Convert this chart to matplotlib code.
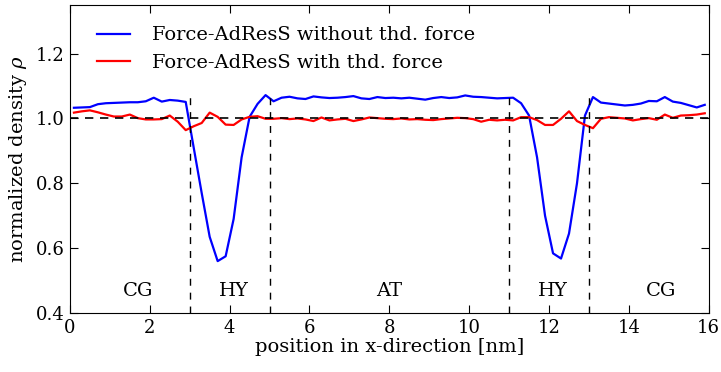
import numpy as np
import matplotlib
matplotlib.use("Agg")
import matplotlib.pyplot as plt

# density profiles, bins of 0.2 nm (centres 0.1 ... 15.9)
x = np.arange(0.1, 16.0, 0.2)

rho_without = [
    1.033, 1.034, 1.035, 1.044, 1.047, 1.048, 1.049, 1.050, 1.050, 1.053,
    1.064, 1.052, 1.057, 1.055, 1.051, 0.910, 0.770, 0.635, 0.560, 0.575,
    0.690, 0.880, 1.005, 1.045, 1.072, 1.053, 1.064, 1.067, 1.062, 1.060,
    1.068, 1.065, 1.063, 1.064, 1.066, 1.069, 1.062, 1.060, 1.066, 1.063,
    1.064, 1.062, 1.064, 1.061, 1.058, 1.063, 1.066, 1.063, 1.065, 1.071,
    1.067, 1.066, 1.064, 1.062, 1.063, 1.064, 1.047, 1.009, 0.880, 0.700,
    0.584, 0.568, 0.645, 0.800, 1.009, 1.066, 1.049, 1.046, 1.043, 1.040,
    1.042, 1.046, 1.054, 1.053, 1.066, 1.052, 1.048, 1.041, 1.034, 1.042,
]

rho_with = [
    1.018, 1.022, 1.025, 1.019, 1.012, 1.006, 1.006, 1.012, 1.001, 0.997,
    0.997, 0.998, 1.009, 0.990, 0.964, 0.976, 0.986, 1.018, 1.005, 0.981,
    0.980, 0.997, 1.005, 1.007, 0.999, 0.999, 1.001, 0.998, 1.000, 0.997,
    0.992, 1.003, 0.994, 0.997, 0.999, 0.992, 0.997, 1.003, 1.001, 0.999,
    0.998, 1.000, 0.997, 0.998, 0.996, 0.995, 0.998, 1.000, 1.002, 1.001,
    0.998, 0.990, 0.996, 0.994, 0.996, 0.994, 1.004, 1.004, 0.995, 0.980,
    0.980, 0.999, 1.022, 0.992, 0.980, 0.970, 0.999, 1.004, 1.002, 1.000,
    0.994, 0.998, 1.001, 0.996, 1.012, 1.002, 1.009, 1.010, 1.012, 1.016,
]

boundaries = [3, 5, 11, 13]
region_names = ["CG", "HY", "AT", "HY", "CG"]
region_pos = [1.7, 4.1, 8.0, 12.1, 14.8]

plt.rcParams['font.family'] = 'DejaVu Serif'
plt.rcParams['mathtext.fontset'] = 'dejavuserif'
plt.rcParams['font.size'] = 14

fig = plt.figure(figsize=(7.21, 3.72), dpi=100)
ax = fig.add_axes([0.097, 0.1586, 0.886, 0.828])

ax.plot(x, rho_without, color='#0000ff', lw=1.6, label='Force-AdResS without thd. force')
ax.plot(x, rho_with, color='#ff0000', lw=1.6, label='Force-AdResS with thd. force')

ax.axhline(1.0, color='black', ls='--', lw=1.2, dashes=(5, 4))
for b in boundaries:
    ax.plot([b, b], [0.4, 1.08], color='black', ls='--', lw=1.0, dashes=(5, 5))

for name, pos in zip(region_names, region_pos):
    ax.text(pos, 0.468, name, ha='center', va='center', fontsize=14)

ax.set_xlim(0, 16)
ax.set_ylim(0.4, 1.35)
ax.set_xticks(range(0, 17, 2))
ax.set_yticks([0.4, 0.6, 0.8, 1.0, 1.2])
ax.tick_params(direction='in', top=True, right=True, length=6, labelsize=13, pad=4)
ax.set_xlabel('position in x-direction [nm]', fontsize=14, labelpad=1)
ax.set_ylabel(r'normalized density $\rho$', fontsize=14, labelpad=5)

ax.legend(loc='upper left', bbox_to_anchor=(0.009, 1.0), frameon=False, fontsize=14,
          handlelength=1.7, handletextpad=1.1, borderaxespad=0.7, labelspacing=0.5)

fig.savefig('out.png', dpi=100)
